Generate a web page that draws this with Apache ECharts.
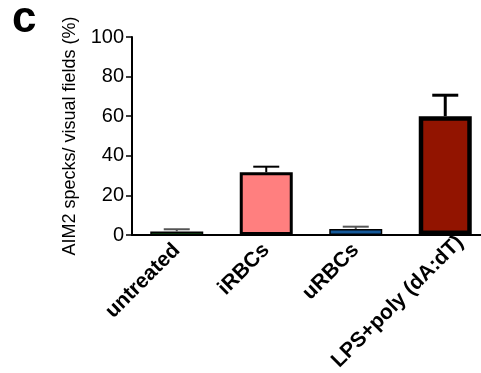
<!DOCTYPE html>
<html><head><meta charset="utf-8">
<script src="https://cdn.jsdelivr.net/npm/echarts@6/dist/echarts.min.js"></script>
<style>html,body{margin:0;padding:0;background:#fff}#c{width:481px;height:373px}</style>
</head><body><div id="c"></div>
<script>
const categories = ['untreated', 'iRBCs', 'uRBCs', 'LPS+poly (dA:dT)'];
const means = [1.8, 31.7, 3.0, 60];
const errors = [1.1, 2.8, 1.2, 10.6];
const colors = ['#16691a', '#ff7f7f', '#14599a', '#921400'];
const yTicks = [0, 20, 40, 60, 80, 100];

const lblFont = { fontFamily: 'Liberation Sans, Arial', fontWeight: 'bold', fontSize: 21, color: '#000' };
const chart = echarts.init(document.getElementById('c'));
chart.setOption({
  animation: false,
  grid: { left: 132, top: 37, width: 358, height: 198, containLabel: false, outerBoundsMode: 'none' },
  graphic: [{ type: 'text', left: 12, top: -2, style: { text: 'c', font: 'bold 44px "Liberation Sans", Arial', fill: '#000' } }],
  xAxis: {
    type: 'category',
    data: categories,
    axisLine: { lineStyle: { color: '#000', width: 2 } },
    axisTick: { show: false },
    axisLabel: Object.assign({ rotate: 45, interval: 0, margin: 12,
      formatter: (v, idx) => idx === 3 ? '{s|' + v + '}' : '{n|' + v + '}',
      rich: {
        n: Object.assign({}, lblFont),
        s: Object.assign({ padding: [10, -16, 0, 0] }, lblFont)
      }
    }, lblFont)
  },
  yAxis: {
    type: 'value', min: 0, max: 100, interval: 20,
    name: 'AIM2 specks/ visual fields (%)', nameLocation: 'middle', nameGap: 53,
    nameTextStyle: { color: '#000', fontFamily: 'Liberation Sans, Arial', fontSize: 18 },
    splitLine: { show: false },
    axisLine: { show: true, lineStyle: { color: '#000', width: 2 } },
    axisTick: { show: true, length: 6, lineStyle: { color: '#000', width: 1.5 } },
    axisLabel: { color: '#000', fontFamily: 'Liberation Sans, Arial', fontSize: 20, margin: 8,
      formatter: v => yTicks.includes(v) ? String(v) : '' }
  },
  series: [
    {
      type: 'bar', barWidth: 53,
      data: means.map((v, i) => ({ value: v, itemStyle: { color: colors[i], borderColor: '#000', borderWidth: i === 3 ? 4.5 : (v < 5 ? 1.5 : 3) } })),
      z: 2
    },
    {
      type: 'custom', z: 3,
      data: means.map((v, i) => [i, v, v + errors[i]]),
      renderItem: function (params, api) {
        const i = api.value(0);
        const top = api.coord([i, api.value(2)]);
        const base = api.coord([i, api.value(1)]);
        const hw = 13;
        const lw = i === 3 ? 3 : 2;
        const col = (i === 0 || i === 2) ? '#555' : '#000';
        return {
          type: 'group', children: [
            { type: 'line', shape: { x1: top[0], y1: base[1], x2: top[0], y2: top[1] }, style: { stroke: col, lineWidth: lw } },
            { type: 'line', shape: { x1: top[0] - hw, y1: top[1], x2: top[0] + hw, y2: top[1] }, style: { stroke: col, lineWidth: lw } }
          ]
        };
      }
    }
  ]
});
</script></body></html>
